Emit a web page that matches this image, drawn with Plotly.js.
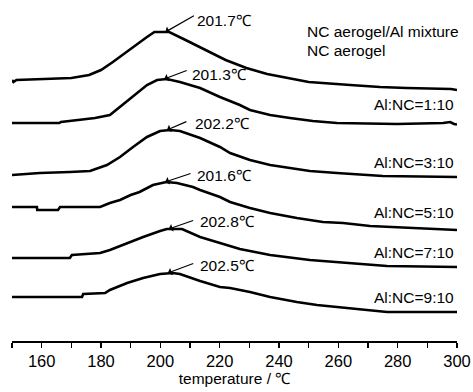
<!DOCTYPE html>
<html>
<head>
<meta charset="utf-8">
<script src="https://cdn.plot.ly/plotly-3.0.1.min.js"></script>
<style>html,body{margin:0;padding:0;background:#fff;}#chart{width:473px;height:392px;}</style>
</head>
<body>
<div id="chart"></div>
<script>
// temperature (°C) and heat-flow (a.u., stacked with offsets)
const names = ["NC aerogel", "Al:NC=1:10", "Al:NC=3:10", "Al:NC=5:10", "Al:NC=7:10", "Al:NC=9:10"];
const peakTemps = [201.7, 201.3, 202.2, 201.6, 202.8, 202.5];
const peakLabels = ["201.7℃", "201.3℃", "202.2℃", "201.6℃", "202.8℃", "202.5℃"];

const t1 = [150, 150.5, 151.5, 166, 170, 176, 180, 184, 188, 192, 195.5, 198, 203, 208.5, 215.5, 222, 229, 236, 243, 250, 264, 274, 283, 298, 300];
const v1 = [26.1, 25.9, 26.1, 26.2, 26.3, 26.6, 27.1, 27.9, 28.8, 29.7, 30.4, 30.9, 30.9, 30.1, 29.1, 28.1, 27.3, 26.7, 26.3, 25.9, 25.6, 25.4, 25.3, 25.2, 25.1];

const t2 = [150, 166, 166.5, 173, 178, 183, 186.4, 190.8, 195.5, 198.9, 202.2, 206.6, 213.4, 220.1, 226.8, 230.2, 237, 243.7, 251.4, 259.5, 279.8, 295.3, 297.7, 299, 300];
const v2 = [21.8, 21.8, 21.9, 22.1, 22.3, 22.6, 23.4, 24.4, 25.6, 26.1, 26.2, 25.9, 25.3, 24.4, 23.6, 23.1, 22.6, 22.3, 22.0, 21.8, 21.7, 21.8, 21.9, 21.7, 21.65];

const t3 = [150, 153.7, 159.4, 169.5, 176.3, 182, 186.4, 190.8, 195.5, 199.9, 203.3, 206.6, 213.4, 220.1, 223.5, 230.2, 237, 243.7, 250.4, 259.5, 275, 300];
const v3 = [16.6, 16.7, 16.8, 16.9, 17.0, 17.6, 18.4, 19.4, 20.4, 21.0, 21.1, 21.0, 20.3, 19.4, 18.8, 18.1, 17.6, 17.3, 17.0, 16.8, 16.5, 16.4];

const t4 = [150, 158.4, 158.5, 165.5, 166.2, 179.7, 183, 186.4, 190, 193, 197.5, 202, 205.6, 211, 213.4, 220.1, 223.5, 226.8, 230.2, 237, 246, 254.8, 261.6, 270.7, 286.5, 300];
const v4 = [13.4, 13.4, 13.1, 13.1, 13.4, 13.4, 13.8, 14.1, 14.6, 14.9, 15.6, 15.9, 15.8, 15.4, 15.1, 14.4, 13.9, 13.6, 13.3, 12.8, 12.3, 11.9, 11.8, 11.5, 11.3, 11.1];

const t5 = [150, 169.5, 170.2, 179.7, 183, 188.8, 194.2, 199.9, 202.2, 207.3, 213.4, 220.1, 223.5, 226.8, 230.2, 237, 250.4, 263.9, 276.4, 300];
const v5 = [8.3, 8.3, 8.6, 8.8, 9.1, 9.8, 10.4, 11.0, 11.2, 11.2, 10.4, 9.8, 9.5, 9.2, 9.0, 8.6, 8.1, 7.8, 7.5, 7.4];

const t6 = [150, 173.6, 174, 181.4, 183, 188.8, 194.2, 199.9, 204.2, 206.6, 213.4, 220.1, 223.5, 230.2, 237, 246, 252.8, 262.9, 276.4, 300];
const v6 = [4.4, 4.4, 4.7, 4.8, 5.1, 5.8, 6.3, 6.7, 6.8, 6.7, 6.0, 5.4, 5.3, 4.9, 4.4, 3.9, 3.6, 3.3, 2.9, 2.9];

const tickVals = [160, 180, 200, 220, 240, 260, 280, 300];
const tickText = ["160", "180", "200", "220", "240", "260", "280", "300"];

const temps = [t1, t2, t3, t4, t5, t6];
const vals = [v1, v2, v3, v4, v5, v6];

const FONT = '"Liberation Sans", Arial, sans-serif';
const FS = 15.5;

const traces = temps.map((t, i) => ({
  x: t, y: vals[i], type: 'scatter', mode: 'lines', name: names[i],
  line: {color: '#000', width: 2.6}, showlegend: false, hoverinfo: 'skip'
}));

const annotations = [];
// arrow geometry (pixel offsets) and label shifts
const arrowAx = [30, 24, 21, 27, 26, 27];
const arrowAy = [-17, -9, -9, -9, -9, -10];
const textDx = [30, 26, 26, 30, 29, 30];
const textDy = [12, 5, 7, 7, 8, 8];
temps.forEach((t, i) => {
  const pk = Math.max(...vals[i]);
  annotations.push({
    x: peakTemps[i], y: pk, xref: 'x', yref: 'y', text: '', showarrow: true,
    ax: arrowAx[i], ay: arrowAy[i], arrowhead: 1, arrowsize: 1.1, arrowwidth: 1.2,
    arrowcolor: '#000', standoff: 0, startstandoff: 0
  });
  annotations.push({
    x: peakTemps[i], y: pk, xref: 'x', yref: 'y', text: peakLabels[i], showarrow: false,
    xanchor: 'left', yanchor: 'middle', xshift: textDx[i], yshift: textDy[i],
    font: {family: FONT, size: FS, color: '#000'}
  });
});
// series labels at right
const labelShift = [20, 15, 18, 15, 15];
for (let i = 1; i < 6; i++) {
  annotations.push({
    x: 300, y: vals[i][vals[i].length - 1], xref: 'x', yref: 'y', text: names[i], showarrow: false,
    xanchor: 'right', yanchor: 'middle', xshift: -1, yshift: labelShift[i - 1],
    font: {family: FONT, size: FS, color: '#000'}
  });
}
annotations.push({
  x: 0.658, y: 0.908, xref: 'paper', yref: 'paper', text: 'NC aerogel/Al mixture', showarrow: false,
  xanchor: 'left', yanchor: 'middle', font: {family: FONT, size: FS, color: '#000'}
});
annotations.push({
  x: 0.658, y: 0.853, xref: 'paper', yref: 'paper', text: names[0], showarrow: false,
  xanchor: 'left', yanchor: 'middle', font: {family: FONT, size: FS, color: '#000'}
});

const layout = {
  width: 473, height: 392,
  margin: {l: 12, r: 16, t: 0, b: 51, pad: 0},
  paper_bgcolor: '#fff', plot_bgcolor: '#fff',
  showlegend: false,
  xaxis: {
    range: [150, 300], showgrid: false, zeroline: false,
    showline: true, linecolor: '#000', linewidth: 1.5,
    ticks: 'outside', ticklen: 5, tickwidth: 1.5, tickcolor: '#000',
    tickmode: 'array', tickvals: tickVals, ticktext: tickText,
    minor: {dtick: 10, tick0: 150, ticks: 'outside', ticklen: 5, tickwidth: 1.5, tickcolor: '#000', showgrid: false},
    tickfont: {family: FONT, size: FS + 1, color: '#000'},
    title: {text: 'temperature / ℃', font: {family: FONT, size: FS, color: '#000'}, standoff: 4},
    automargin: false, fixedrange: true
  },
  yaxis: {range: [0, 34.1], visible: false, fixedrange: true},
  annotations: annotations
};

Plotly.newPlot('chart', traces, layout, {staticPlot: true, displayModeBar: false});
</script>
</body>
</html>
